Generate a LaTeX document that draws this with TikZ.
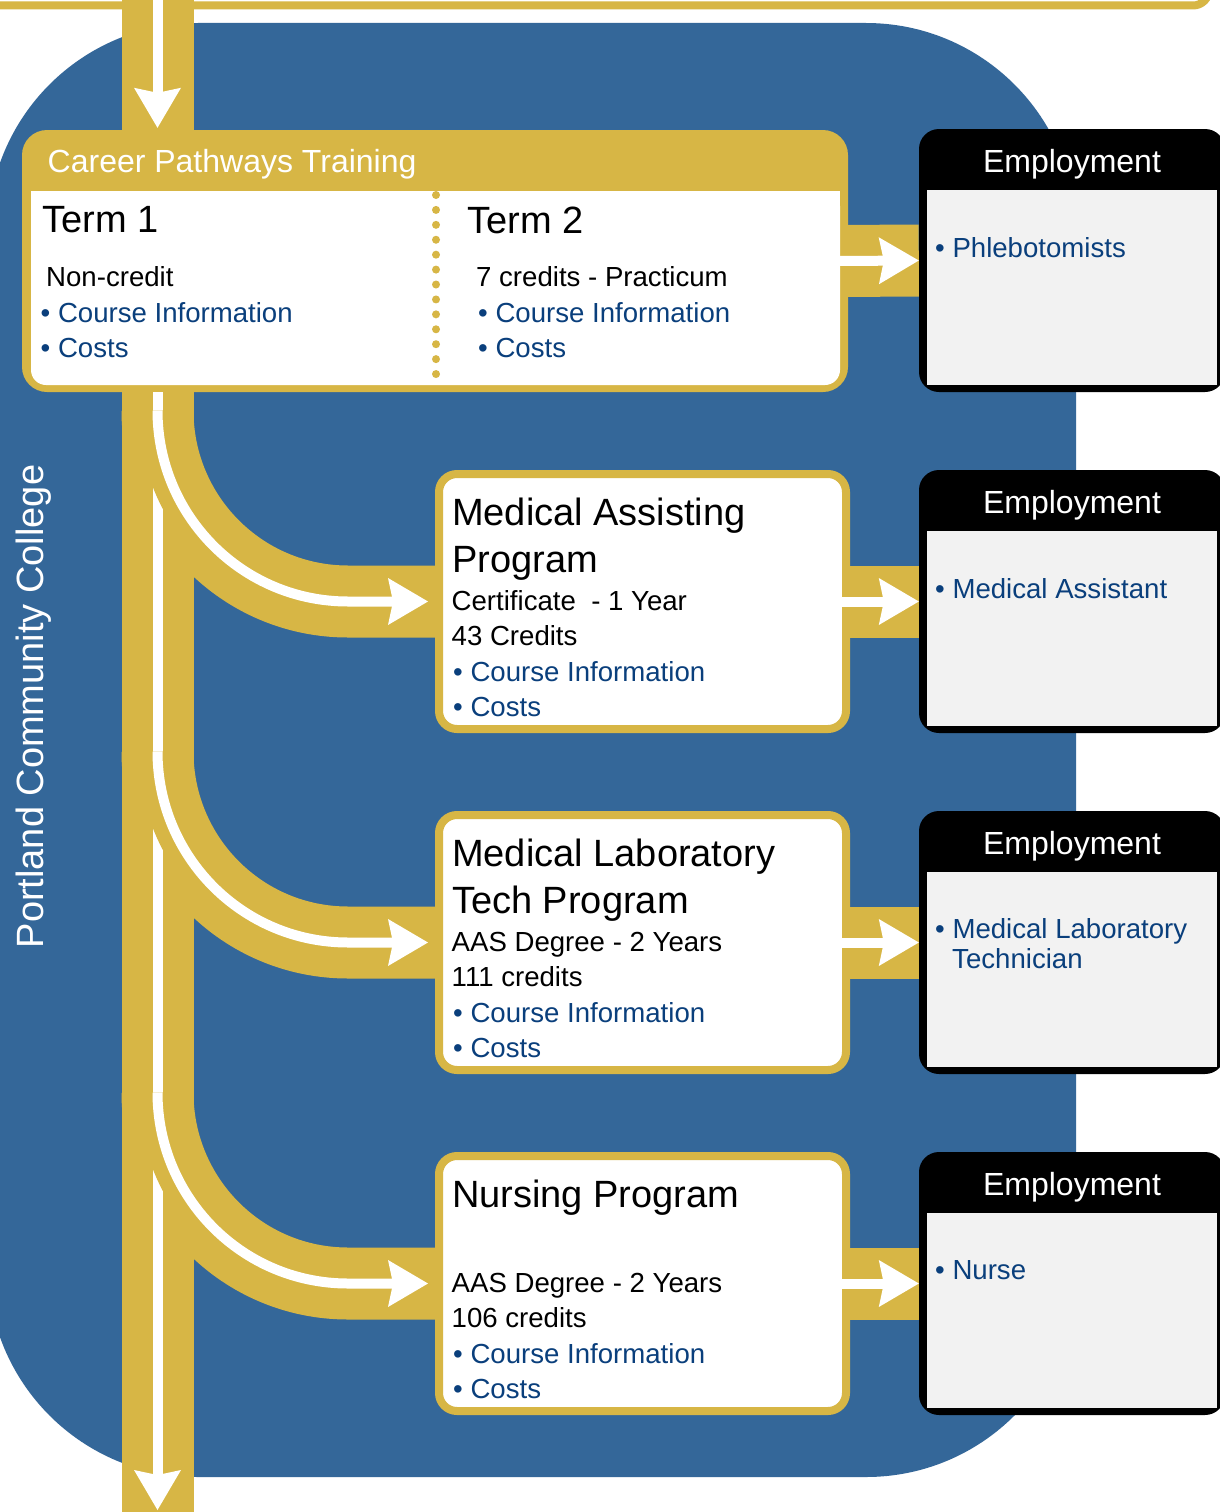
\documentclass[tikz,border=0pt]{standalone}
\usepackage{fontspec}
\setmainfont{Liberation Sans}
\usetikzlibrary{arrows.meta}
\definecolor{gold}{HTML}{D7B645}
\definecolor{bgblue}{HTML}{346799}
\definecolor{linkblue}{HTML}{0A3F7C}
\definecolor{empgray}{HTML}{F2F2F2}
\pgfdeclarelayer{back}
\pgfdeclarelayer{bands}
\pgfsetlayers{back,bands,main}
\begin{document}
\begin{tikzpicture}[x=1pt,y=-1pt,
  txt/.style={anchor=base west, inner sep=0pt, font=\fontsize{27.6}{33}\selectfont},
  lnk/.style={txt, text=linkblue},
  ttl/.style={anchor=base west, inner sep=0pt, font=\fontsize{38}{45}\selectfont},
  hdr/.style={anchor=base, inner sep=0pt, text=white, font=\fontsize{32}{38}\selectfont},
  band/.style={gold, line width=72pt},
  casing/.style={gold, line width=38pt},
  wline/.style={white, line width=10pt},
  wtip/.style={-{Stealth[length=40pt,width=47pt,inset=5pt,line width=0pt]}},
  progbox/.style={draw=gold, line width=8pt, fill=white, rounded corners=18pt, minimum width=407pt, minimum height=255pt, inner sep=0pt},
  empbox/.style={fill=black, rounded corners=20pt, minimum width=306pt, minimum height=263pt, inner sep=0pt},
]
\useasboundingbox (0,0) rectangle (1220,1512);
\clip (0,0) rectangle (1220,1512);

\begin{pgfonlayer}{back}
\fill[white] (0,0) rectangle (1220,1512);
\draw[gold, line width=8pt, rounded corners=16pt] (-20,5.5) -- (1209,5.5) -- (1209,-40);
\fill[bgblue, rounded corners=210pt] (-12,23) rectangle (1076,1477);
\end{pgfonlayer}

% coordinates of the main trunk
\coordinate (bandtop) at (157.5,-10);
\coordinate (bandbot) at (157.5,1522);
\coordinate (trunkend) at (157.5,1510);
\coordinate (br1) at (157.5,410.5);
\coordinate (br2) at (157.5,751.5);
\coordinate (br3) at (157.5,1092.5);

% Career Pathways box
\node[fill=gold, rounded corners=25pt, minimum width=826pt, minimum height=262pt, inner sep=0pt] (career) at (435,261) {};
\fill[white, rounded corners=15pt] (31,191) rectangle (840,385);
\fill[white] (31,191) rectangle (840,215);
\node[anchor=base west, inner sep=0pt, text=white, font=\fontsize{32}{38}\selectfont] (cpt) at (47.5,172) {Career Pathways Training};
\foreach \i in {0,...,12} \fill[gold] (436,{195+\i*14.92}) circle (4pt);

\node[ttl] (t1) at (42,232) {Term 1};
\node[txt] (t1a) at (46,286) {Non-credit};
\node[lnk] (t1b) at (40.5,322) {• Course Information};
\node[lnk] (t1c) at (40.5,357) {• Costs};

\node[ttl] (t2) at (467,233) {Term 2};
\node[txt] (t2a) at (476,286) {7 credits - Practicum};
\node[lnk] (t2b) at (478,322) {• Course Information};
\node[lnk] (t2c) at (478,357) {• Costs};

% Program boxes
\node[progbox] (ma) at (642.5,601.5) {};
\node[progbox] (ml) at (642.5,942.5) {};
\node[progbox] (nu) at (642.5,1283.5) {};

\node[ttl] (ma1) at (452,525) {Medical Assisting};
\node[ttl] (ma2) at (452,572) {Program};
\node[txt] (ma3) at (451.5,610) {Certificate~~- 1 Year};
\node[txt] (ma4) at (451.5,645) {43 Credits};
\node[lnk] (ma5) at (453,681) {• Course Information};
\node[lnk] (ma6) at (453,716) {• Costs};

\node[ttl] (ml1) at (452,866) {Medical Laboratory};
\node[ttl] (ml2) at (452,913) {Tech Program};
\node[txt] (ml3) at (451.5,951) {AAS Degree - 2 Years};
\node[txt] (ml4) at (451.5,986) {111 credits};
\node[lnk] (ml5) at (453,1022) {• Course Information};
\node[lnk] (ml6) at (453,1057) {• Costs};

\node[ttl] (nu1) at (452,1207) {Nursing Program};
\node[txt] (nu3) at (451.5,1292) {AAS Degree - 2 Years};
\node[txt] (nu4) at (451.5,1327) {106 credits};
\node[lnk] (nu5) at (453,1363) {• Course Information};
\node[lnk] (nu6) at (453,1398) {• Costs};

% Employment boxes
\foreach \k in {0,1,2,3}{
  \node[empbox] (emp\k) at (1072,{260.5+341*\k}) {};
  \fill[empgray] (927,{190+341*\k}) rectangle (1217,{385+341*\k});
  \node[hdr] (emph\k) at (1072,{172+341*\k}) {Employment};
}
\node[lnk] (e0) at (935,257) {• Phlebotomists};
\node[lnk] (e1) at (935,598) {• Medical Assistant};
\node[lnk] (e2) at (935,938) {• Medical Laboratory};
\node[lnk] (e2b) at (952,968) {Technician};
\node[lnk] (e3) at (935,1279) {• Nurse};

% side label
\node[rotate=90, anchor=base, inner sep=0pt, text=white, font=\fontsize{38}{45}\selectfont] (pcc) at (43,706.5) {Portland Community College};

% gold bands
\begin{pgfonlayer}{bands}
\draw[band] (bandtop) -- (bandbot);
\draw[band] (br1) .. controls ++(0,105.5) and ++(-105.5,0) .. ++(190.5,191) -- (ma.west);
\draw[band] (br2) .. controls ++(0,105.5) and ++(-105.5,0) .. ++(190.5,191) -- (ml.west);
\draw[band] (br3) .. controls ++(0,105.5) and ++(-105.5,0) .. ++(190.5,191) -- (nu.west);
\draw[band] ([xshift=-8pt]career.east) -- (emp0.west);
\draw[band] ([xshift=-6pt]ma.east) -- (emp1.west);
\draw[band] ([xshift=-6pt]ml.east) -- (emp2.west);
\draw[band] ([xshift=-6pt]nu.east) -- (emp3.west);
\end{pgfonlayer}

% white arrows
\draw[wline, wtip] (bandtop) -- ([yshift=2pt]bandtop |- career.north);
\draw[wline, wtip] (bandtop |- career.south) -- (trunkend);
\draw[casing] (br1) .. controls ++(0,105.5) and ++(-105.5,0) .. ++(190.5,191) -- ++(20,0);
\draw[wline, wtip] (br1) .. controls ++(0,105.5) and ++(-105.5,0) .. ++(190.5,191) -- ([xshift=-7pt]ma.west);
\draw[casing] (br2) .. controls ++(0,105.5) and ++(-105.5,0) .. ++(190.5,191) -- ++(20,0);
\draw[wline, wtip] (br2) .. controls ++(0,105.5) and ++(-105.5,0) .. ++(190.5,191) -- ([xshift=-7pt]ml.west);
\draw[casing] (br3) .. controls ++(0,105.5) and ++(-105.5,0) .. ++(190.5,191) -- ++(20,0);
\draw[wline, wtip] (br3) .. controls ++(0,105.5) and ++(-105.5,0) .. ++(190.5,191) -- ([xshift=-7pt]nu.west);
\draw[wline, wtip] ([xshift=-12pt]career.east) -- (emp0.west);
\draw[wline, wtip] ([xshift=-10pt]ma.east) -- (emp1.west);
\draw[wline, wtip] ([xshift=-10pt]ml.east) -- (emp2.west);
\draw[wline, wtip] ([xshift=-10pt]nu.east) -- (emp3.west);
\end{tikzpicture}
\end{document}
